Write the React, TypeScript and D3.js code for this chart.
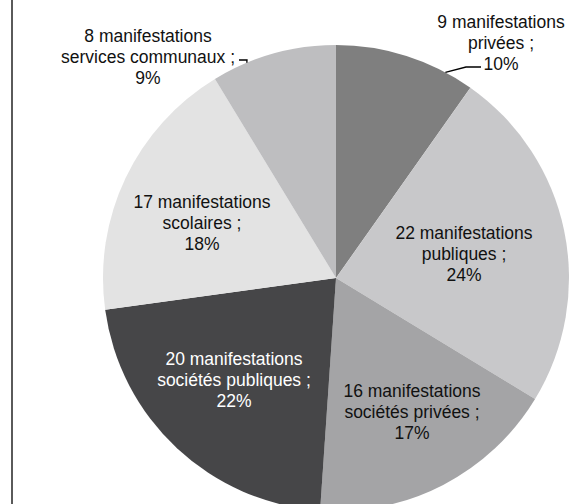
import React from "react";
import * as d3 from "d3";

// slices, clockwise from 12 o'clock
const categories = [
  "privées",
  "publiques",
  "sociétés privées",
  "sociétés publiques",
  "scolaires",
  "services communaux",
];
const counts = [9, 22, 16, 20, 17, 8];
const percents = ["10%", "24%", "17%", "22%", "18%", "9%"];
const colors = ["#7f7f7f", "#c8c8ca", "#a4a4a6", "#464648", "#e3e3e3", "#bebec0"];
const textColors = ["#111", "#111", "#111", "#fff", "#111", "#111"];

// label layout: centre x, first baseline
const labelPos: [number, number][] = [
  [501, 28],
  [464, 239],
  [412, 397],
  [234, 365],
  [202, 208],
  [148, 42],
];
// leader lines: anchor angle on the rim (deg), elbow, end
const leaders = [
  { i: 0, angle: 28, elbow: [466, 67], end: [481, 67] },
  { i: 5, angle: 337.5, elbow: [247, 60], end: [239, 60] },
];

const width = 570;
const height = 504;
const cx = 336;
const cy = 278;
const radius = 233;
const lineH = 21;

export default function App() {
  const pie = d3.pie<number>().sort(null).value((d) => d);
  const arcs = pie(counts);
  const arc = d3.arc<d3.PieArcDatum<number>>().innerRadius(0).outerRadius(radius);

  const rim = (deg: number): [number, number] => {
    const a = (deg * Math.PI) / 180;
    return [cx + radius * Math.sin(a), cy - radius * Math.cos(a)];
  };

  return (
    <svg
      width={width}
      height={height}
      style={{ position: "absolute", left: 0, top: 0, display: "block", background: "#fff" }}
      fontFamily="'Liberation Sans', Arial, sans-serif"
    >
      <line x1={12} x2={12} y1={0} y2={height} stroke="#5a5a5a" strokeWidth={2} />
      <g transform={`translate(${cx},${cy})`}>
        {arcs.map((d, i) => (
          <path key={categories[i]} d={arc(d) || ""} fill={colors[i]} />
        ))}
      </g>
      {leaders.map((l) => {
        const p = rim(l.angle);
        return (
          <polyline
            key={l.i}
            points={[p, l.elbow, l.end].map((q) => q.join(",")).join(" ")}
            fill="none"
            stroke="#000"
            strokeWidth={1.3}
          />
        );
      })}
      {categories.map((c, i) => {
        const [x, y] = labelPos[i];
        const lines = [`${counts[i]} manifestations`, `${c} ;`, percents[i]];
        return (
          <text key={c} x={x} y={y} textAnchor="middle" fontSize={17.5} fill={textColors[i]}>
            {lines.map((t, k) => (
              <tspan key={k} x={x} y={y + k * lineH}>
                {t}
              </tspan>
            ))}
          </text>
        );
      })}
    </svg>
  );
}
